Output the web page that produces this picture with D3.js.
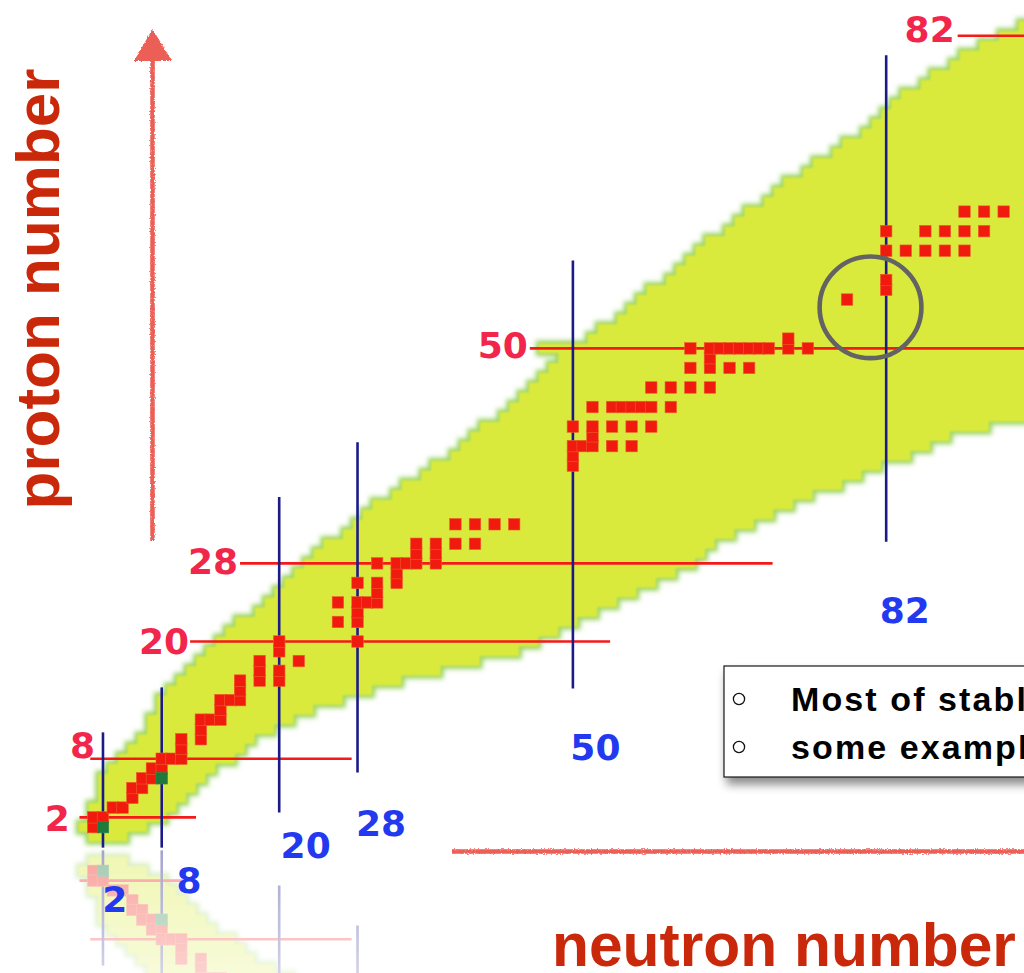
<!DOCTYPE html>
<html><head><meta charset="utf-8">
<script src="https://cdn.jsdelivr.net/npm/d3@7"></script>
<style>
html,body{margin:0;padding:0;background:#fff;overflow:hidden}
svg{display:block}
</style></head><body>
<script>
// ---- data -------------------------------------------------------------
// proton numbers that carry stable nuclides, with their neutron numbers
const stableZ = [1,2,3,4,5,6,7,8,9,10,11,12,13,14,15,16,17,18,19,20,22,23,24,25,26,27,28,29,30,32,38,39,40,41,42,44,46,48,49,50,51,55,56,57,60,62,64];
const stableN = [
  [1],[1,2],[3,4],[5],[5,6],[6,7],[7,8],[8,9,10],[10],[10,12],[12],[12,13,14],[14],[14,15,16],[16],
  [16,18,20],[18,20],[18,22],[20],[20,28],[26,28],[28],[26,28,29,30],[30],[28,30,32],[32],
  [30,32,33,34,36],[34,36],[34,36,38,40],[38,40,42,44],[50],[50],[50,51,52,54,56],[52],
  [50,52,54,56,58],[52,54,55,56,57,58,60],[58,60,62,64],[62,64,66,68],[64],
  [62,64,65,66,67,68,69,70,72,74],[72],[78],[82],[82],[82,84,86,88,90],[82,86,88,90,92],[90,92,94]
];
// radioactive examples: tritium and carbon-14  [N, Z]
const exampleNuclides = [[2,1],[8,6]];

// band of known nuclides: lightest and heaviest neutron number for Z = 0,1,2,...
const bandNmin = [1,0,1,1,2,2,2,3,4,5,6,7,7,8,8,9,10,11,12,13,14,15,16,18,19,20,21,22,23,24,25,27,28,29,30,32,33,35,36,38,39,40,41,43,44,45,46,47,48,49,47,52,53,55,56,57,58,60,61,62,63,64,66,67,68,70,71,72,74,75,77,78,80,81,82,83,84,86,87,89,90,92,94,96,98];
const bandNmax = [4,6,8,9,10,11,12,13,15,16,17,19,21,23,26,29,32,36,40,44,46,48,50,52,54,56,58,60,62,63,64,66,68,70,72,74,77,79,81,84,86,88,92,96,99,99,99,99,99,99,99,99,99,99,99,99,99,99,99,99,99,99,99,99,99,99,99,99,99,99,99,99,99,99,99,99,99,99,99,99,99,99,99,99,99];

// magic numbers and the reach of their guide lines
const magicNumbers   = [2, 8, 20, 28, 50, 82];
const protonLineFrom = [-0.4, 0.7, 10.9, 16.0, 45.6, 89.3];   // in N
const protonLineTo   = [11.5, 27.4, 53.8, 70.4, 97, 97];
const protonLabelN   = [-1.4, 1.2, 10.8, 15.8, 45.4, 89.0];   // right end of the label
const protonLabelZ   = [1.9, 9.4, 20, 28.2, 50.3, 82.7];
const neutronLineFrom = [-1.1, -1.1, 2.5, 6.6, 15.2, 30.2];  // in Z
const neutronLineTo   = [10.7, 15.3, 34.8, 40.4, 59.0, 80.0];
const neutronLabelN   = [3.2, 10.8, 22.7, 30.4, 52.3, 83.9];
const neutronLabelZ   = [-7.7, -5.7, -2.2, 0.1, 7.9, 21.9];

// ring around Cs-133 / Ba-138 / La-139
const ring = {n: 80.4, z: 54.2, r: 5.2};

const legendLines = ["Most of stable nuclei", "some examples of unstable nuclei"];

// ---- layout -----------------------------------------------------------
const W = 1024, H = 973;
const x = d3.scaleLinear().domain([0, 96]).range([83.4, 83.4 + 96 * 9.79]);
const y = d3.scaleLinear().domain([0, 84]).range([836.9, 836.9 - 84 * 9.77]);
const cell = 11.5;
const mirrorY = 849;

const svg = d3.select("body").append("svg").attr("width", W).attr("height", H)
  .attr("viewBox", `0 0 ${W} ${H}`);
const defs = svg.append("defs");

// green halo around the band
const glow = defs.append("filter").attr("id", "bandGlow")
  .attr("filterUnits", "userSpaceOnUse").attr("x", 0).attr("y", -20).attr("width", W + 40).attr("height", H + 40);
glow.append("feMorphology").attr("operator", "dilate").attr("radius", 3);
glow.append("feGaussianBlur").attr("stdDeviation", 2.8);

const soft = defs.append("filter").attr("id", "soft")
  .attr("filterUnits", "userSpaceOnUse").attr("x", 0).attr("y", -20).attr("width", W + 40).attr("height", H + 40);
soft.append("feGaussianBlur").attr("stdDeviation", 0.8);

// slightly ragged strokes for the hand-drawn arrows
const rough = defs.append("filter").attr("id", "rough")
  .attr("filterUnits", "userSpaceOnUse").attr("x", 0).attr("y", 0).attr("width", W).attr("height", H);
rough.append("feTurbulence").attr("type", "fractalNoise").attr("baseFrequency", 0.7)
  .attr("numOctaves", 2).attr("seed", 4).attr("result", "noise");
rough.append("feDisplacementMap").attr("in", "SourceGraphic").attr("in2", "noise")
  .attr("scale", 3.2).attr("xChannelSelector", "R").attr("yChannelSelector", "G");

const shadow = defs.append("filter").attr("id", "shadow")
  .attr("filterUnits", "userSpaceOnUse").attr("x", 650).attr("y", 600).attr("width", 420).attr("height", 260);
shadow.append("feDropShadow").attr("dx", 3).attr("dy", 7).attr("stdDeviation", 5)
  .attr("flood-color", "#000").attr("flood-opacity", 0.45);

// fading mask for the reflection under the chart
const grad = defs.append("linearGradient").attr("id", "fadeGrad")
  .attr("gradientUnits", "userSpaceOnUse").attr("x1", 0).attr("y1", mirrorY).attr("x2", 0).attr("y2", H);
grad.append("stop").attr("offset", 0).attr("stop-color", "#fff").attr("stop-opacity", 0.4);
grad.append("stop").attr("offset", 1).attr("stop-color", "#fff").attr("stop-opacity", 0.2);
defs.append("mask").attr("id", "fadeMask").attr("maskUnits", "userSpaceOnUse")
  .attr("x", 0).attr("y", 0).attr("width", W).attr("height", H)
  .append("rect").attr("x", 0).attr("y", mirrorY).attr("width", W).attr("height", H - mirrorY)
  .attr("fill", "url(#fadeGrad)");

// ---- chart body (band, magic lines, nuclides) ---------------------------
const chart = defs.append("g").attr("id", "chartBody");

// staircase outline of the band
const bandPts = [];
bandNmin.forEach((n, z) => {
  bandPts.push([x(n - 0.5), y(z - 0.5)], [x(n - 0.5), y(z + 0.5)]);
});
for (let z = bandNmax.length - 1; z >= 0; z--) {
  const n = bandNmax[z];
  bandPts.push([x(n + 0.5), y(z + 0.5)], [x(n + 0.5), y(z - 0.5)]);
}
const bandPath = d3.line()(bandPts) + "Z";
chart.append("path").attr("d", bandPath).attr("fill", "#9bd466").attr("filter", "url(#bandGlow)");
chart.append("path").attr("d", bandPath).attr("fill", "#d9ea3c").attr("filter", "url(#soft)");

// proton magic lines
chart.append("g").selectAll("line").data(magicNumbers).join("line")
  .attr("x1", (d, i) => x(protonLineFrom[i])).attr("x2", (d, i) => x(protonLineTo[i]))
  .attr("y1", d => y(d)).attr("y2", d => y(d))
  .attr("stroke", "#f41a1a").attr("stroke-width", 2.6);

// neutron magic lines
chart.append("g").selectAll("line").data(magicNumbers).join("line")
  .attr("x1", d => x(d)).attr("x2", d => x(d))
  .attr("y1", (d, i) => y(neutronLineFrom[i])).attr("y2", (d, i) => y(neutronLineTo[i]))
  .attr("stroke", "#1b1a88").attr("stroke-width", 2.6);

// stable nuclides
const stableCells = stableZ.flatMap((z, i) => stableN[i].map(n => [n, z]));
chart.append("g").selectAll("rect").data(stableCells).join("rect")
  .attr("x", d => x(d[0]) - cell / 2).attr("y", d => y(d[1]) - cell / 2)
  .attr("width", cell).attr("height", cell)
  .attr("fill", "#f01a0e").attr("stroke", "#ee5f2a").attr("stroke-width", 0.6);

// unstable examples
chart.append("g").selectAll("rect").data(exampleNuclides).join("rect")
  .attr("x", d => x(d[0]) - cell / 2).attr("y", d => y(d[1]) - cell / 2)
  .attr("width", cell).attr("height", cell)
  .attr("fill", "#1d7a3a").attr("stroke", "#2f8a4a").attr("stroke-width", 0.6);

// reflection below, then the chart itself
svg.append("g").attr("mask", "url(#fadeMask)")
  .append("use").attr("href", "#chartBody")
  .attr("transform", `translate(0,${2 * mirrorY}) scale(1,-1)`);
svg.append("use").attr("href", "#chartBody");

// ring around the N = 82 neighbourhood
svg.append("ellipse")
  .attr("cx", x(ring.n)).attr("cy", y(ring.z))
  .attr("rx", x(ring.n + ring.r) - x(ring.n)).attr("ry", y(ring.z) - y(ring.z + ring.r))
  .attr("fill", "none").attr("stroke", "#636363").attr("stroke-width", 4.6);

// magic number labels
const digitFont = "'DejaVu Sans', Verdana, sans-serif";
svg.append("g").selectAll("text").data(magicNumbers).join("text")
  .attr("x", (d, i) => x(protonLabelN[i]))
  .attr("y", (d, i) => y(protonLabelZ[i]))
  .attr("dy", "0.36em").attr("text-anchor", "end")
  .attr("font-family", digitFont).attr("font-weight", "bold").attr("font-size", 36)
  .attr("fill", "#f2264b").text(d => d);

svg.append("g").selectAll("text").data(magicNumbers).join("text")
  .attr("x", (d, i) => x(neutronLabelN[i])).attr("y", (d, i) => y(neutronLabelZ[i]))
  .attr("text-anchor", "middle")
  .attr("font-family", digitFont).attr("font-weight", "bold").attr("font-size", 36)
  .attr("fill", "#2239ef").text(d => d);

// hand-drawn axis arrows
const arrowColor = "#ec5e57";
const arrows = svg.append("g").attr("filter", "url(#rough)");
arrows.append("line").attr("x1", 152.5).attr("x2", 152.5).attr("y1", 541).attr("y2", 56)
  .attr("stroke", arrowColor).attr("stroke-width", 4.5);
arrows.append("path").attr("d", "M134,61 L152.5,29 L172,61 Z").attr("fill", arrowColor);
arrows.append("line").attr("x1", 452).attr("x2", 1030).attr("y1", 851.5).attr("y2", 851.5)
  .attr("stroke", arrowColor).attr("stroke-width", 4.5);

// axis titles
const titleFont = "'Liberation Sans', Arial, Helvetica, sans-serif";
svg.append("text").attr("transform", "translate(59,289) rotate(-90)")
  .attr("text-anchor", "middle").attr("font-family", titleFont).attr("font-weight", "bold")
  .attr("font-size", 62).attr("fill", "#c9290a").text("proton number");
svg.append("text").attr("x", 552).attr("y", 966)
  .attr("font-family", titleFont).attr("font-weight", "bold")
  .attr("font-size", 60.5).attr("fill", "#c9290a").text("neutron number");

// legend box
const legend = svg.append("g");
legend.append("rect").attr("x", 724).attr("y", 666).attr("width", 340).attr("height", 111)
  .attr("fill", "#fff").attr("stroke", "#1a1a1a").attr("stroke-width", 1.2)
  .attr("filter", "url(#shadow)");
legend.selectAll("circle").data(legendLines).join("circle")
  .attr("cx", 739).attr("cy", (d, i) => 699 + i * 48).attr("r", 5.6)
  .attr("fill", "#fff").attr("stroke", "#111").attr("stroke-width", 1.3);
legend.selectAll("text").data(legendLines).join("text")
  .attr("x", 791).attr("y", (d, i) => 711 + i * 48)
  .attr("font-family", titleFont).attr("font-weight", "bold").attr("font-size", 34)
  .attr("letter-spacing", 2.1).attr("fill", "#000").text(d => d);
</script>
</body></html>
